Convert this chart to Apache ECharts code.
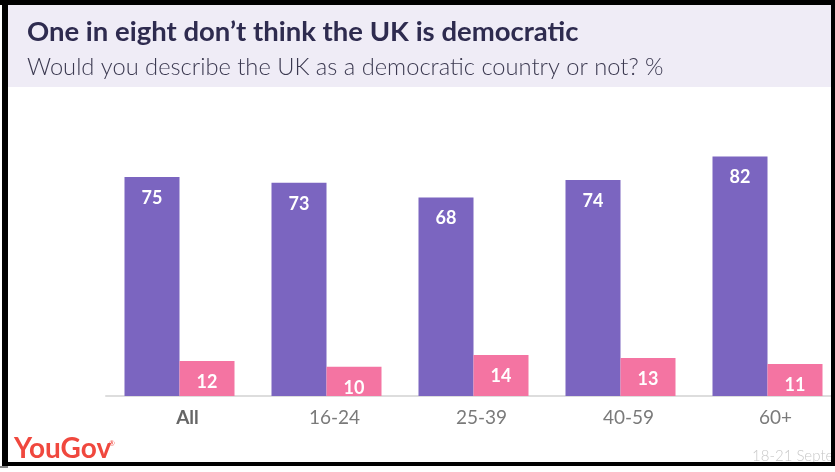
<!DOCTYPE html>
<html>
<head>
<meta charset="utf-8">
<script src="https://cdn.jsdelivr.net/npm/echarts@6/dist/echarts.min.js"></script>
<style>
html,body{margin:0;padding:0;background:#fff;}
#chart{width:835px;height:472px;}
</style>
</head>
<body>
<div id="chart"></div>
<script>
var categories = ['All', '16-24', '25-39', '40-59', '60+'];
var democratic = [75, 73, 68, 74, 82];
var notDemocratic = [12, 10, 14, 13, 11];
var titleText = 'One in eight don\u2019t think the UK is democratic';
var subtitleText = 'Would you describe the UK as a democratic country or not? %';
var dateText = '18-21 September 2020';

var FONT = 'Lato, "Open Sans", sans-serif';
var chart = echarts.init(document.getElementById('chart'), null, {renderer: 'canvas'});

var labelStyle = {
  show: true,
  position: 'insideTop',
  distance: 12,
  color: '#ffffff',
  fontFamily: FONT,
  fontWeight: 'bold',
  fontSize: 18
};

chart.setOption({
  animation: false,
  backgroundColor: '#ffffff',
  graphic: [
    {type: 'rect', z: 0, shape: {x: 8, y: 5, width: 823, height: 82}, style: {fill: '#efecf6'}},
    {type: 'rect', z: 10, shape: {x: 0, y: 0, width: 835, height: 5}, style: {fill: '#000'}},
    {type: 'rect', z: 10, shape: {x: 2, y: 0, width: 6, height: 466}, style: {fill: '#000'}},
    {type: 'rect', z: 10, shape: {x: 831, y: 0, width: 4, height: 466}, style: {fill: '#000'}},
    {type: 'rect', z: 10, shape: {x: 6, y: 462, width: 829, height: 4}, style: {fill: '#000'}},
    {type: 'rect', z: 10, shape: {x: 0, y: 466, width: 8, height: 2}, style: {fill: '#888'}},
    {type: 'text', z: 5, left: 27, top: 18, style: {text: titleText, fontFamily: FONT, fontWeight: 'bold', fontSize: 27.5, fill: '#2e2b4f'}},
    {type: 'text', z: 5, left: 27, top: 55, style: {text: subtitleText, fontFamily: FONT, fontWeight: 300, fontSize: 23.7, fill: '#3b3950'}},
    {type: 'text', z: 5, left: 14, top: 435, style: {text: 'YouGov', fontFamily: FONT, fontWeight: 'bold', fontSize: 28, fill: '#f0483e'}},
    {type: 'text', z: 5, left: 109, top: 440, style: {text: '\u00ae', fontFamily: FONT, fontSize: 7, fill: '#f0483e'}},
    {type: 'text', z: 5, left: 752, top: 449, style: {text: dateText, fontFamily: FONT, fontWeight: 300, fontSize: 15, fill: '#c8c8c8'}}
  ],
  grid: {left: 106, width: 735, top: 104, bottom: 76, containLabel: false, outerBoundsMode: 'none'},
  xAxis: {
    type: 'category',
    data: categories,
    axisLine: {show: true, lineStyle: {color: '#dddddd', width: 2}},
    axisTick: {show: false},
    axisLabel: {
      margin: 12,
      padding: [0, 0, 0, 16],
      fontFamily: FONT,
      fontSize: 19,
      color: '#7a7a7a',
      formatter: function (v) { return v === 'All' ? '{b|' + v + '}' : v; },
      rich: {b: {fontFamily: FONT, fontSize: 19, fontWeight: 'bold', color: '#666666'}}
    }
  },
  yAxis: {
    type: 'value',
    min: 0,
    max: 100,
    show: false,
    splitLine: {show: false}
  },
  series: [
    {
      name: 'Democratic',
      type: 'bar',
      data: democratic,
      barWidth: 55,
      barGap: '0%',
      itemStyle: {color: '#7b65c0'},
      label: labelStyle
    },
    {
      name: 'Not democratic',
      type: 'bar',
      data: notDemocratic,
      barWidth: 55,
      barGap: '0%',
      itemStyle: {color: '#f474a2'},
      label: labelStyle
    }
  ]
});
</script>
</body>
</html>
